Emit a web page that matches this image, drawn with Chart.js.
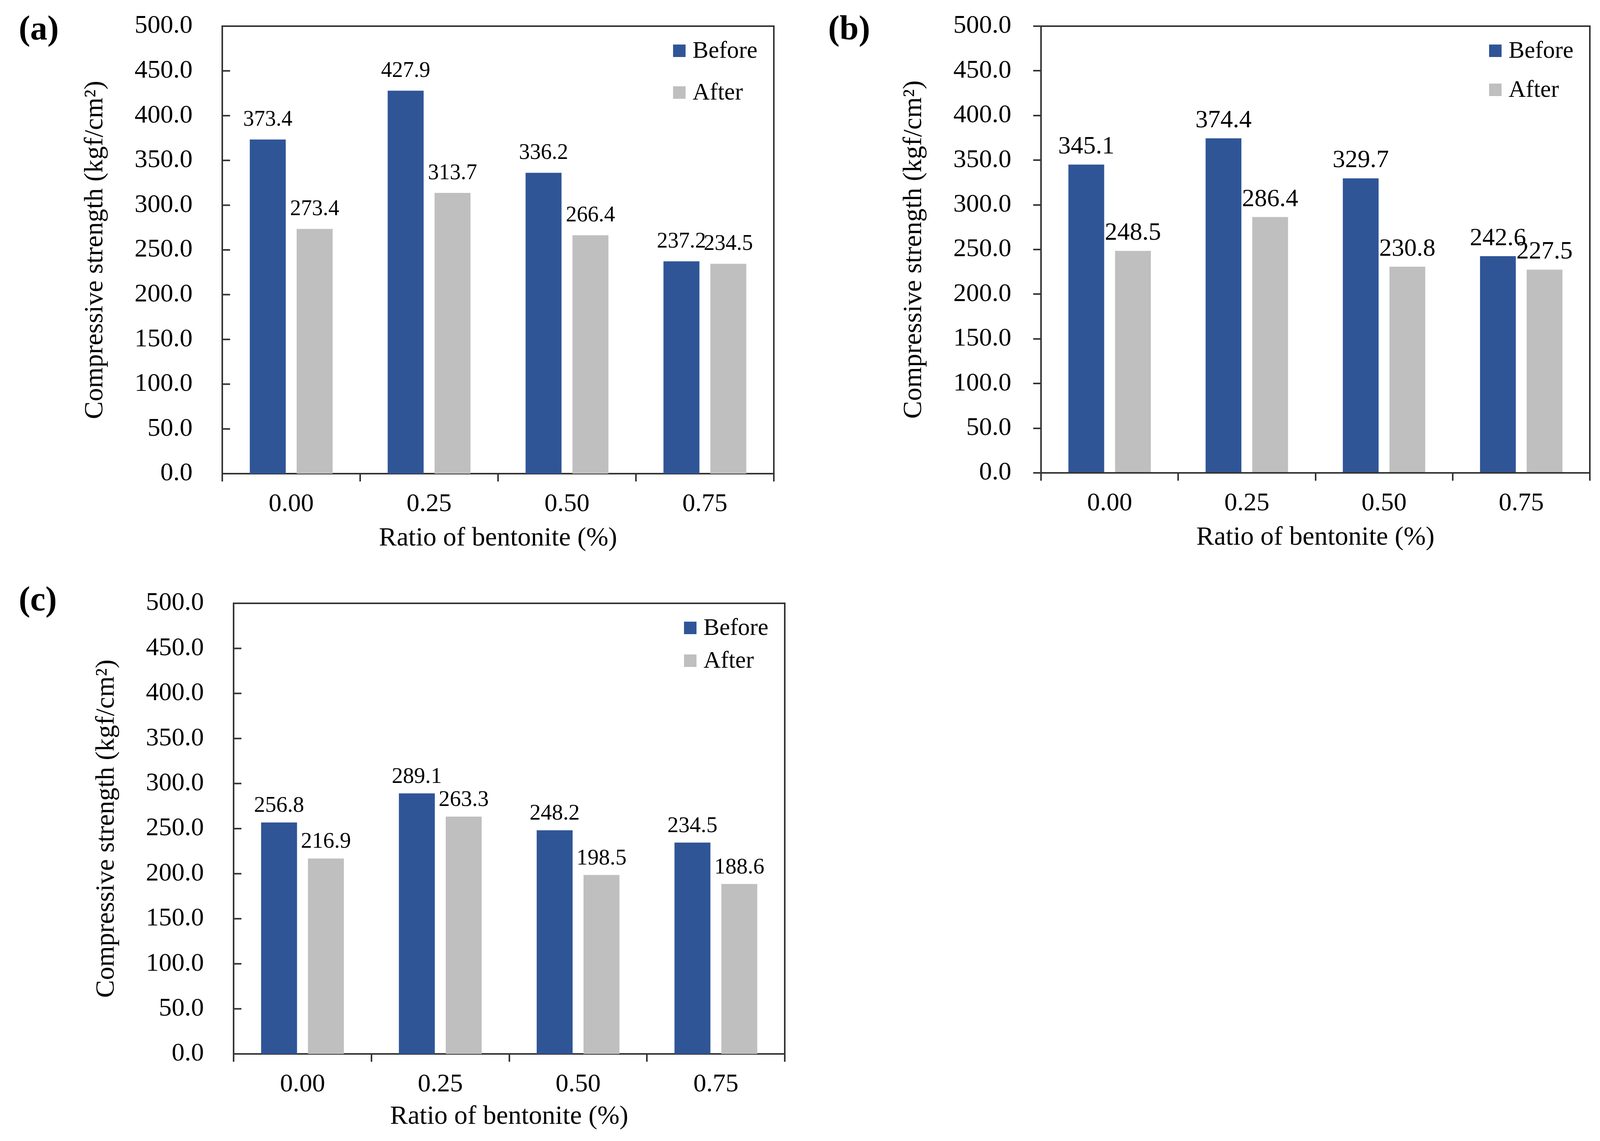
<!DOCTYPE html>
<html><head><meta charset="utf-8">
<script src="https://cdn.jsdelivr.net/npm/chart.js@4.4.1/dist/chart.umd.min.js"></script>
<style>
html,body{margin:0;padding:0;background:#fff;}
body{width:4117px;height:2922px;position:relative;overflow:hidden;}
canvas{position:absolute;}
.plabel{position:absolute;font-family:"Liberation Serif","Times New Roman",serif;font-weight:bold;font-size:88px;line-height:88px;color:#000;}
</style></head><body>
<div class="plabel" style="left:48px;top:28px">(a)</div>
<div class="plabel" style="left:2120px;top:28px">(b)</div>
<div class="plabel" style="left:48px;top:1490px">(c)</div>
<canvas id="ca" width="2058" height="1461" style="left:0px;top:0px"></canvas>
<canvas id="cb" width="2059" height="1461" style="left:2058px;top:0px"></canvas>
<canvas id="cc" width="2058" height="1461" style="left:0px;top:1461px"></canvas>
<script>
// ---- data ----
const categories = ['0.00', '0.25', '0.50', '0.75'];
const seriesNames = ['Before', 'After'];
const beforeA = [373.4, 427.9, 336.2, 237.2];
const afterA  = [273.4, 313.7, 266.4, 234.5];
const beforeB = [345.1, 374.4, 329.7, 242.6];
const afterB  = [248.5, 286.4, 230.8, 227.5];
const beforeC = [256.8, 289.1, 248.2, 234.5];
const afterC  = [216.9, 263.3, 198.5, 188.6];
const yTickValues = [0, 50, 100, 150, 200, 250, 300, 350, 400, 450, 500];
const xTitle = 'Ratio of bentonite (%)';
const yTitle = 'Compressive strength (kgf/cm\u00B2)';

// ---- styles ----
const FONT = '"Liberation Serif", "Times New Roman", serif';
const BLUE = '#2F5597', GRAY = '#BFBFBF', AXIS = '#333333';
const FS = 66, TFS = 68, LH = TFS * 1.2;

const framePlugin = {
  id: 'frame',
  afterDraw(chart, args, opts) {
    const {ctx, chartArea: a} = chart;
    ctx.save();
    ctx.strokeStyle = AXIS; ctx.lineWidth = 4;
    ctx.beginPath();
    ctx.moveTo(a.left - 2, a.top); ctx.lineTo(a.right, a.top); ctx.lineTo(a.right, a.bottom);
    ctx.stroke();
    if (opts.inTicks) {
      const ys = chart.scales.y;
      ctx.beginPath();
      yTickValues.forEach(v => {
        const py = ys.getPixelForValue(v);
        ctx.moveTo(a.left, py); ctx.lineTo(a.left + 20, py);
      });
      ctx.stroke();
    }
    ctx.restore();
  }
};

const labelPlugin = {
  id: 'vlabels',
  afterDatasetsDraw(chart, args, opts) {
    const {ctx} = chart;
    ctx.save();
    ctx.font = opts.size + 'px ' + FONT;
    ctx.fillStyle = '#000';
    ctx.textAlign = 'center';
    ctx.textBaseline = 'middle';
    chart.data.datasets.forEach((ds, i) => {
      chart.getDatasetMeta(i).data.forEach((bar, j) => {
        ctx.fillText(Number(ds.data[j]).toFixed(1), bar.x, bar.y - opts.off);
      });
    });
    ctx.restore();
  }
};

const legendPlugin = {
  id: 'inlegend',
  afterDraw(chart, args, opts) {
    const {ctx, chartArea: a} = chart;
    ctx.save();
    ctx.font = '61px ' + FONT;
    ctx.textAlign = 'left';
    ctx.textBaseline = 'middle';
    const dss = chart.data.datasets;
    const maxW = Math.max(...dss.map(d => ctx.measureText(d.label).width));
    const box = 32, gap = 18;
    const x0 = a.right - 42 - maxW - gap - box;
    dss.forEach((d, i) => {
      const yc = a.top + 63 + i * opts.spacing;
      ctx.fillStyle = d.backgroundColor;
      ctx.fillRect(x0, yc - box / 2, box, box);
      ctx.fillStyle = '#000';
      ctx.fillText(d.label, x0 + box + gap, yc + 2);
    });
    ctx.restore();
  }
};

function makeChart(id, before, after, cfg) {
  const canvas = document.getElementById(id);
  const W = canvas.width, H = canvas.height;
  const A = cfg.area;
  return new Chart(canvas, {
    type: 'bar',
    data: {
      labels: categories,
      datasets: [
        {label: seriesNames[0], data: before, backgroundColor: BLUE, borderWidth: 0},
        {label: seriesNames[1], data: after, backgroundColor: GRAY, borderWidth: 0}
      ]
    },
    options: {
      responsive: false, animation: false, devicePixelRatio: 1,
      categoryPercentage: 0.68, barPercentage: 0.767,
      layout: {padding: {left: 0, top: A.top, right: W - A.right, bottom: 0}},
      plugins: {
        legend: {display: false}, tooltip: {enabled: false},
        frame: {inTicks: !cfg.outTicks},
        vlabels: {size: cfg.labelSize, off: cfg.labelOff},
        inlegend: {spacing: cfg.legendSpacing}
      },
      scales: {
        x: {
          offset: true,
          grid: {display: true, offset: true, drawOnChartArea: false, drawTicks: true, tickLength: 20, color: AXIS, lineWidth: 4},
          border: {display: true, color: AXIS, width: 4},
          ticks: {font: {family: FONT, size: FS}, color: '#000', padding: 19},
          title: {display: true, text: xTitle, font: {family: FONT, size: TFS}, color: '#000',
                  padding: {top: 0, bottom: H - cfg.xTitleY - LH / 2}},
          afterFit: s => { s.height = H - A.bottom; s.paddingLeft = 0; s.paddingRight = 0; }
        },
        y: {
          min: 0, max: 500,
          afterBuildTicks: s => { s.ticks = yTickValues.map(v => ({value: v})); },
          grid: {display: cfg.outTicks, drawOnChartArea: false, drawTicks: cfg.outTicks, tickLength: 20, color: AXIS, lineWidth: 4},
          border: {display: true, color: AXIS, width: 4},
          ticks: {font: {family: FONT, size: FS}, color: '#000', padding: cfg.outTicks ? 56 : 76,
                  callback: v => Number(v).toFixed(1)},
          title: {display: true, text: yTitle, font: {family: FONT, size: TFS}, color: '#000',
                  padding: {top: cfg.yTitleX - LH / 2, bottom: 0}},
          afterFit: s => { s.width = A.left; s.paddingTop = 0; s.paddingBottom = 0; }
        }
      }
    },
    plugins: [framePlugin, labelPlugin, legendPlugin]
  });
}

makeChart('ca', beforeA, afterA, {
  area: {left: 569, top: 67, right: 1981, bottom: 1213},
  yTitleX: 244, xTitleY: 1379, outTicks: false,
  labelSize: 56, labelOff: 50, legendSpacing: 107
});
makeChart('cb', beforeB, afterB, {
  area: {left: 607, top: 67, right: 2012, bottom: 1211},
  yTitleX: 282, xTitleY: 1377, outTicks: true,
  labelSize: 64, labelOff: 45, legendSpacing: 100
});
makeChart('cc', beforeC, afterC, {
  area: {left: 598, top: 84, right: 2009, bottom: 1238},
  yTitleX: 273, xTitleY: 1399, outTicks: false,
  labelSize: 57, labelOff: 42, legendSpacing: 84
});
</script>
</body></html>
